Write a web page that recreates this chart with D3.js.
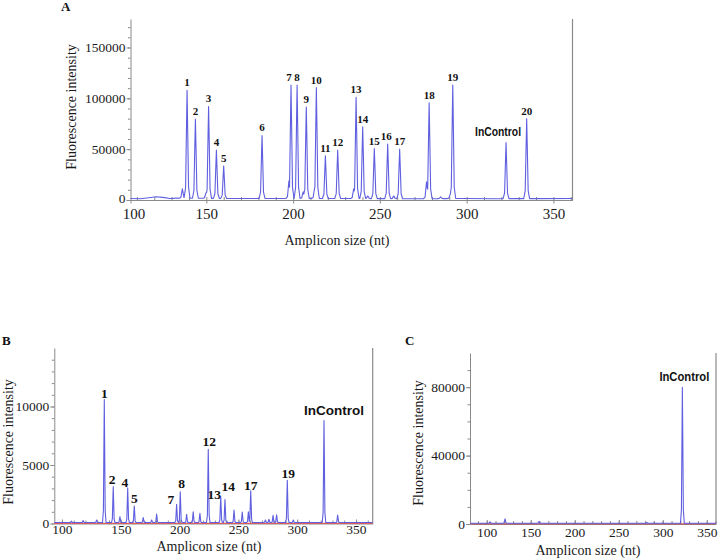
<!DOCTYPE html>
<html><head><meta charset="utf-8">
<script src="https://cdn.jsdelivr.net/npm/d3@7"></script>
<style>body{margin:0;background:#fff} svg{display:block}</style>
</head><body>
<svg id="chart" width="721" height="560"></svg>
<script>
// ---------- Panel A data ----------
const aSizes   = [138.9,143.7,151.3,155.8,160.0,182.1,198.8,202.3,207.6,213.4,218.6,225.7,236.3,240.1,246.8,254.5,261.4,278.4,292.0,322.7,334.6];
const aHeights = [108000,79500,92000,49000,33500,63500,113000,113000,91500,110500,43500,49000,101000,72000,50500,55000,50000,95500,113000,56500,80000];
const aLabels  = ["1","2","3","4","5","6","7","8","9","10","11","12","13","14","15","16","17","18","19","InControl","20"];
const aMinorSizes   = [136.2,149.8,197.6,205.8,212.4,234.9,243.0,258.0,276.9,285.0,290.6];
const aMinorHeights = [11000,7000,19000,8000,12000,11000,4000,4000,18000,3000,6000];
const aBaseSizes  = [106.3,112,118,121,125,129,133,170,190,230,270,300,315,340,361];
const aBaseValues = [1500,1200,2500,3200,2600,1500,1800,1500,1500,1500,1200,1500,1300,1400,1500];
const aXTicks = [100,150,200,250,300,350];
const aYTicks = [0,50000,100000,150000];

// ---------- Panel B data ----------
const bSizes   = [136.0,143.6,155.9,161.5,197.5,200.6,224.4,235.0,238.6,260.5,291.6,322.8];
const bHeights = [10600,3150,3050,1500,1650,2700,6350,2300,2050,2800,3700,8800];
const bLabels  = ["1","2","4","5","7","8","12","13","14","17","19","InControl"];
const bMinorSizes   = [108,118,129.5,149.3,169.1,176.3,180.5,206,211.6,217.3,246.3,253.3,258.5,273,276,279.5,282.5,296.7,334.4];
const bMinorHeights = [200,250,300,580,500,300,800,780,1000,870,1150,980,1000,300,350,700,750,300,720];
const bBaseSizes  = [93.5,364.2];
const bBaseValues = [80,80];
const bRedSizes  = [93.5,364.2];
const bRedValues = [20,20];
const bXTicks = [100,150,200,250,300,350];
const bYTicks = [0,5000,10000];

// ---------- Panel C data ----------
const cSizes   = [322.3];
const cHeights = [80000];
const cLabels  = ["InControl"];
const cMinorSizes   = [103.8,120.8,159.4,281.8,290,300];
const cMinorHeights = [1200,3000,1500,900,800,700];
const cBaseSizes  = [81,360.5];
const cBaseValues = [400,400];
const cRedSizes  = [81,360.5];
const cRedValues = [100,100];
const cXTicks = [100,150,200,250,300,350];
const cYTicks = [0,40000,80000];

// ---------- helpers ----------
const svg = d3.select("#chart");
const SERIF = "'Liberation Serif','Times New Roman',serif";
const SANS = "'Liberation Sans',Arial,sans-serif";
const AXIS = "#8a8a8a";
const TRACE = "#5f5fe0";

const shape = [[-1,0],[-0.5,0.1],[-0.2,0.65],[0,1],[0.2,0.65],[0.5,0.1],[1,0]];
const prof = d3.scaleLinear().domain(shape.map(s=>s[0])).range(shape.map(s=>s[1])).clamp(true);

function buildTrace(bs, bv, sizes, heights, hw, lo, hi) {
  const base = d3.scaleLinear().domain(bs).range(bv).clamp(true);
  const peaks = sizes.map((s,i)=>({s, h:heights[i]}));
  const xs = new Set(bs);
  peaks.forEach(p=>shape.forEach(k=>xs.add(p.s + k[0]*hw)));
  const arr = Array.from(xs).filter(x=>x>=lo && x<=hi).sort((a,b)=>a-b);
  return arr.map(x=>{
    let m = 0;
    peaks.forEach(p=>{ const v = prof((x-p.s)/hw)*(p.h-base(p.s)); if (v>m) m=v; });
    return [x, base(x)+m];
  });
}

function panel(o) {
  const g = svg.append("g");
  const x = d3.scaleLinear().domain(o.xd).range(o.xr).clamp(true);
  const y = d3.scaleLinear().domain(o.yd).range(o.yr);
  // minor ticks
  const xMinor = d3.range(Math.ceil(o.xd[0]/10)*10, o.xd[1], 10);
  g.append("g").attr("transform",`translate(0,${o.yr[0]})`)
    .call(d3.axisTop(x).tickValues(xMinor).tickSize(3).tickFormat(""))
    .call(a=>{a.select(".domain").remove(); a.selectAll("line").attr("stroke",AXIS);});
  const yMinor = d3.range(0, o.yd[1], o.yMinorStep);
  g.append("g").attr("transform",`translate(${o.xr[0]},0)`)
    .call(d3.axisLeft(y).tickValues(yMinor).tickSize(2.5).tickFormat(""))
    .call(a=>{a.select(".domain").remove(); a.selectAll("line").attr("stroke",AXIS);});
  // major axes
  g.append("g").attr("transform",`translate(0,${o.yr[0]})`)
    .call(d3.axisBottom(x).tickValues(o.xt).tickSize(o.xTick).tickPadding(o.xPad).tickSizeOuter(0))
    .call(a=>{a.select(".domain").attr("stroke",AXIS); a.selectAll("line").attr("stroke",AXIS);
      a.selectAll("text").attr("fill","#1a1a1a").style("font-family",SERIF).style("font-size",o.xFont+"px");
      if (o.firstXShift) a.selectAll("text").filter((d,i)=>i===0).attr("dx",o.firstXShift);});
  g.append("g").attr("transform",`translate(${o.xr[0]},0)`)
    .call(d3.axisLeft(y).tickValues(o.yt).tickSize(4).tickPadding(1).tickSizeOuter(0).tickFormat(d3.format("d")))
    .call(a=>{a.select(".domain").attr("stroke",AXIS); a.selectAll("line").attr("stroke",AXIS);
      a.selectAll("text").attr("fill","#1a1a1a").style("font-family",SERIF).style("font-size",o.yFont+"px");
      if (o.zeroYShift) a.selectAll("text").filter(d=>d===0).attr("y",o.zeroYShift);});
  // right border
  g.append("line").attr("x1",o.xr[1]).attr("x2",o.xr[1]).attr("y1",o.yr[1]).attr("y2",o.yr[0])
    .attr("stroke",AXIS).attr("stroke-width",1.2);
  const line = d3.line().x(d=>x(d[0])).y(d=>y(d[1]));
  if (o.red) {
    g.append("path").attr("d",line(o.red)).attr("fill","none").attr("stroke","#e04040").attr("stroke-width",1);
  }
  g.append("path").attr("d",line(o.trace)).attr("fill","none").attr("stroke",TRACE).attr("stroke-width",1.1)
    .attr("stroke-linejoin","round");
  // peak labels
  o.labels.forEach((lab,i)=>{
    const off = (o.off && o.off[lab]) || [0,-4];
    const isText = lab==="InControl";
    const t = g.append("text").attr("x", x(o.sizes[i])+off[0]).attr("y", y(o.heights[i])+off[1])
      .attr("text-anchor","middle").attr("font-weight","bold").attr("fill","#111").text(lab);
    if (isText) {
      t.style("font-family",SANS).style("font-size",o.icFont+"px");
      if (o.icLen) t.attr("textLength",o.icLen).attr("lengthAdjust","spacingAndGlyphs");
    } else {
      t.style("font-family",SERIF).style("font-size",o.labFont+"px");
    }
  });
  // titles
  svg.append("text").attr("x",o.letter[0]).attr("y",o.letter[1]).text(o.letterText)
    .style("font-family",SERIF).style("font-size","13px").attr("font-weight","bold").attr("fill","#111");
  svg.append("text").attr("transform",`translate(${o.yTitle[0]},${o.yTitle[1]}) rotate(-90)`)
    .attr("text-anchor","middle").text("Fluorescence intensity")
    .style("font-family",SERIF).style("font-size","14px").attr("fill","#1a1a1a");
  svg.append("text").attr("x",o.xTitle[0]).attr("y",o.xTitle[1]).attr("text-anchor","middle")
    .text("Amplicon size (nt)").style("font-family",SERIF).style("font-size","14px").attr("fill","#1a1a1a");
}

// Panel A
panel({
  xd:[106.3,361], xr:[130.5,572.5], yd:[0,178000], yr:[200,19], yMinorStep:10000,
  xt:aXTicks, yt:aYTicks, xFont:15, yFont:13.5, xTick:3.5, xPad:5, firstXShift:3, zeroYShift:-2,
  trace: buildTrace(aBaseSizes,aBaseValues, aSizes.concat(aMinorSizes), aHeights.concat(aMinorHeights), 1.7, 106.3, 361),
  sizes:aSizes, heights:aHeights, labels:aLabels, labFont:11, icFont:12, icLen:46,
  off:{"7":[-2,-4],"16":[-1.5,-4],"InControl":[-8,-7]},
  letter:[61,11], letterText:"A", yTitle:[76,107], xTitle:[337,245]
});

// Panel B
panel({
  xd:[93.5,364.2], xr:[54.3,372.7], yd:[0,15000], yr:[523.5,348], yMinorStep:1000,
  xt:bXTicks, yt:bYTicks, xFont:13.5, yFont:13.5, xTick:-4, xPad:0.5,
  trace: buildTrace(bBaseSizes,bBaseValues, bSizes.concat(bMinorSizes), bHeights.concat(bMinorHeights), 1.5, 93.5, 364.2),
  red: bRedSizes.map((s,i)=>[s,bRedValues[i]]),
  sizes:bSizes, heights:bHeights, labels:bLabels, labFont:13.5, icFont:13.5,
  off:{"1":[0,-1.5],"2":[-1,-2.5],"4":[-2.7,-1],"5":[0,-3.3],"7":[-5.7,0],"8":[1.4,-4],"12":[1,-3.3],
       "13":[-6.4,2.3],"14":[3.3,-8.6],"17":[0,-1],"19":[1,-2],"InControl":[10,-6]},
  letter:[2,345], letterText:"B", yTitle:[13,442], xTitle:[209,551]
});

// Panel C
panel({
  xd:[81,360.5], xr:[470,716], yd:[0,100000], yr:[524,353], yMinorStep:10000,
  xt:cXTicks, yt:cYTicks, xFont:13.5, yFont:13.5, xTick:-4, xPad:3.5,
  trace: buildTrace(cBaseSizes,cBaseValues, cSizes.concat(cMinorSizes), cHeights.concat(cMinorHeights), 2.2, 81, 360.5),
  red: cRedSizes.map((s,i)=>[s,cRedValues[i]]),
  sizes:cSizes, heights:cHeights, labels:cLabels, labFont:13.5, icFont:12, icLen:50,
  off:{"InControl":[2,-6]},
  letter:[405,345], letterText:"C", yTitle:[423,443], xTitle:[588,555]
});
</script>
</body></html>
